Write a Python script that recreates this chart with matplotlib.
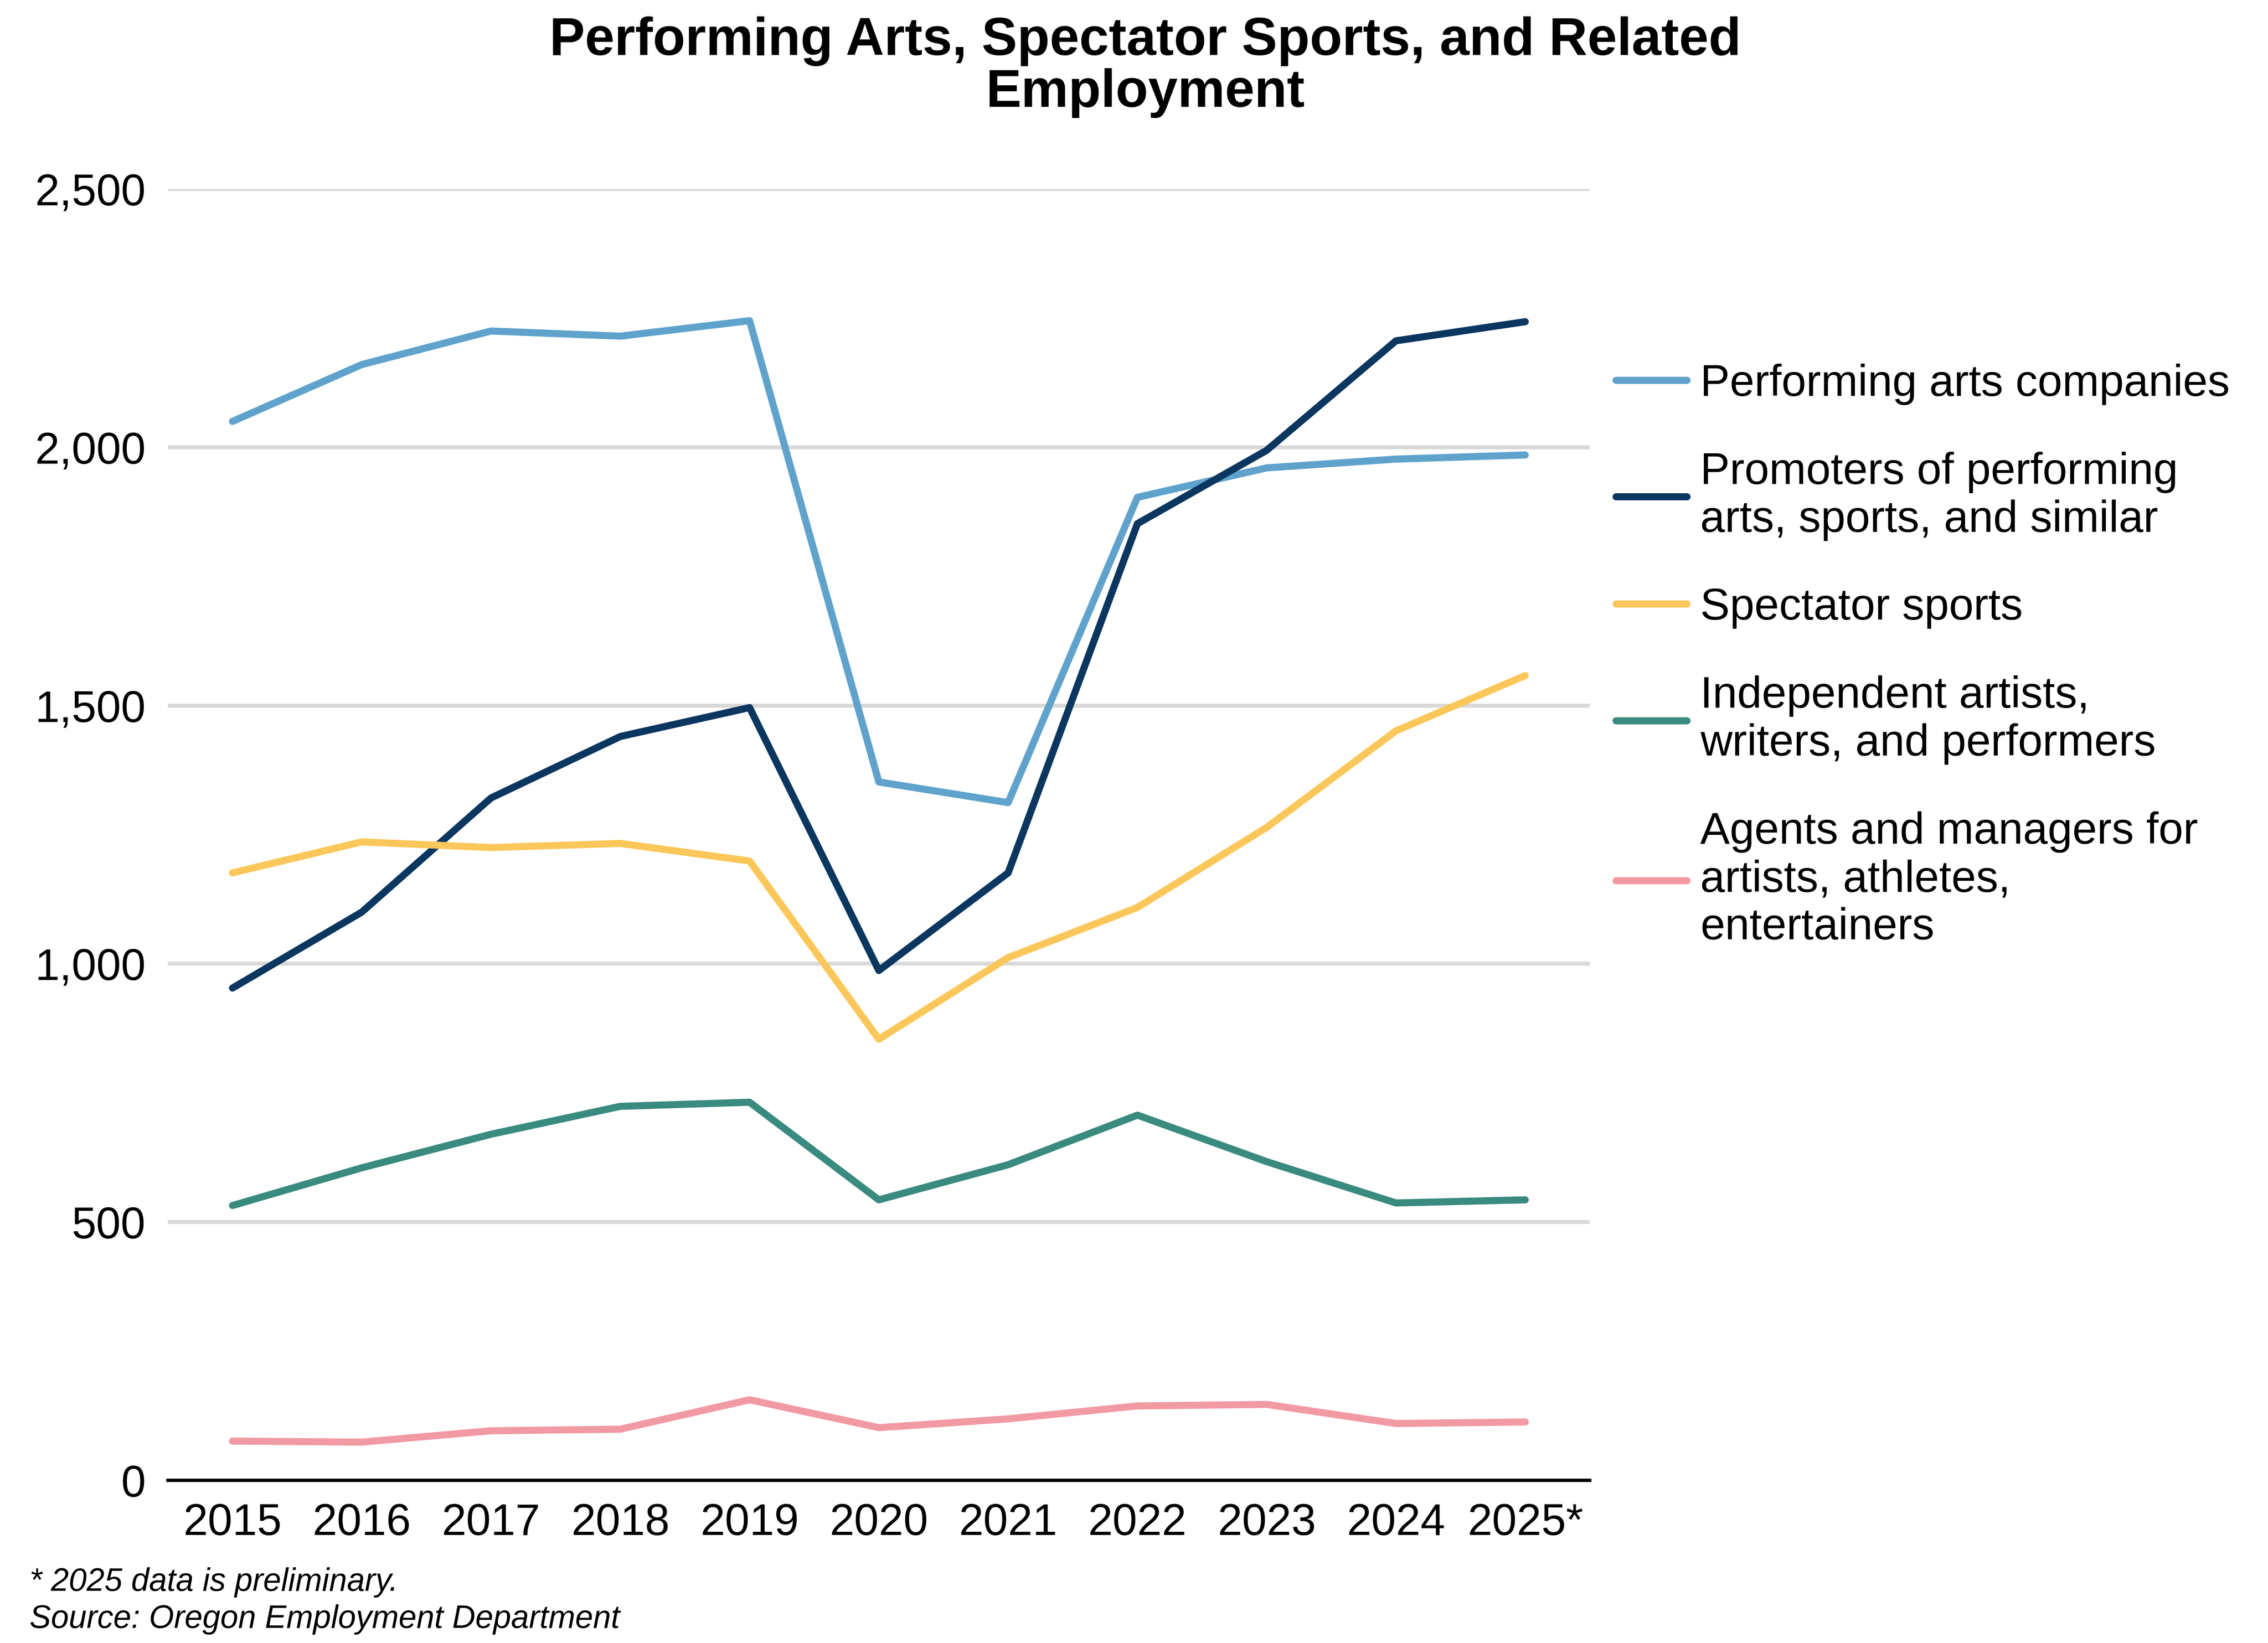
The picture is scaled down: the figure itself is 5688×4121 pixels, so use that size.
import matplotlib
matplotlib.use("Agg")
import matplotlib.pyplot as plt

plt.rcParams["font.family"] = ["Liberation Sans", "DejaVu Sans"]

YEARS = ["2015", "2016", "2017", "2018", "2019", "2020", "2021", "2022", "2023", "2024", "2025*"]
SERIES = [
    ("Performing arts companies", "#5fa2cb",
     [2050, 2160, 2225, 2215, 2245, 1352, 1312, 1903, 1960, 1977, 1985]),
    ("Promoters of performing\narts, sports, and similar", "#0b3660",
     [953, 1100, 1321, 1440, 1496, 987, 1176, 1852, 1994, 2206, 2243]),
    ("Spectator sports", "#fcc75a",
     [1176, 1236, 1225, 1233, 1199, 854, 1012, 1109, 1264, 1451, 1558]),
    ("Independent artists,\nwriters, and performers", "#398a7f",
     [532, 605, 670, 724, 732, 543, 611, 707, 617, 537, 543]),
    ("Agents and managers for\nartists, athletes,\nentertainers", "#f29aa3",
     [76, 74, 96, 99, 156, 102, 119, 144, 147, 110, 113]),
]

fig = plt.figure(figsize=(14.22, 10.3025), dpi=400)
ax = fig.add_axes([0.074, 0.099, 0.627, 0.786])
x = range(len(YEARS))
for label, color, vals in SERIES:
    ax.plot(x, vals, color=color, lw=3.2, label=label, solid_capstyle="round")

ax.set_ylim(0, 2500)
ax.set_xlim(-0.5, len(YEARS) - 0.5)
ax.set_yticks([0, 500, 1000, 1500, 2000, 2500])
ax.set_yticklabels(["0", "500", "1,000", "1,500", "2,000", "2,500"])
ax.set_xticks(list(x)); ax.set_xticklabels(YEARS)
ax.tick_params(labelsize=20, length=0, pad=10)
ax.grid(axis="y", color="#d9d9d9", lw=1.8)
ax.set_axisbelow(True)
for s in ("top", "right", "left"):
    ax.spines[s].set_visible(False)
ax.spines["bottom"].set_color("black"); ax.spines["bottom"].set_linewidth(1.5)

fig.suptitle("Performing Arts, Spectator Sports, and Related\nEmployment", fontsize=24,
             fontweight="bold", x=0.505, y=0.99, linespacing=1.05)
fig.legend(loc="upper left", bbox_to_anchor=(0.695, 0.803), frameon=False, fontsize=20,
           handlelength=1.6, handletextpad=0.3, labelspacing=1.05)
fig.text(0.013, 0.005, "* 2025 data is preliminary.\nSource: Oregon Employment Department",
         fontsize=14.5, style="italic", va="bottom", linespacing=1.3)
fig.savefig("out.png", dpi=400)
